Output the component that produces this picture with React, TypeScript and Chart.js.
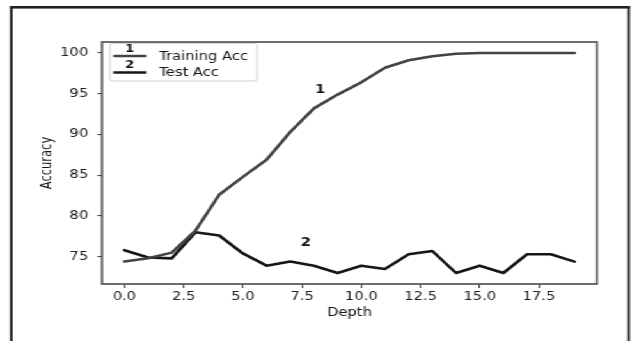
import { useEffect, useRef } from "react";
import { Chart, registerables } from "chart.js";

Chart.register(...registerables);

// Accuracy (%) per tree depth
const depth = [0, 1, 2, 3, 4, 5, 6, 7, 8, 9, 10, 11, 12, 13, 14, 15, 16, 17, 18, 19];
const trainingAcc = [74.4, 74.8, 75.5, 78.2, 82.6, 84.8, 86.9, 90.3, 93.2, 94.9, 96.4, 98.2, 99.1, 99.6, 99.9, 100, 100, 100, 100, 100];
const testAcc = [75.8, 74.9, 74.8, 78.0, 77.6, 75.4, 73.9, 74.4, 73.9, 73.0, 73.9, 73.5, 75.3, 75.7, 73.0, 73.9, 73.0, 75.3, 75.3, 74.4];

const xTickValues = [0, 2.5, 5, 7.5, 10, 12.5, 15, 17.5];
const yTickValues = [75, 80, 85, 90, 95, 100];

const seriesNames = ["Training Acc", "Test Acc"];
const seriesTags = ["1", "2"];
const seriesColors = ["#4a4040", "#161616"];
// where the curve numbers sit, in data units (depth, accuracy)
const tagDepth = [8.26, 7.65];
const tagAcc = [95.4, 76.7];

const FONT = "'DejaVu Sans', sans-serif";
const W = 494;
const H = 341;
const STRETCH = 632 / W;

const decor = {
  id: "decor",
  beforeDraw(chart: any) {
    const ctx = chart.ctx;
    ctx.save();
    ctx.fillStyle = "#ffffff";
    ctx.fillRect(0, 0, W, H);
    // outer frame (open at the bottom)
    ctx.fillStyle = "#222222";
    const t = 2.6;
    ctx.fillRect(10 / STRETCH, 6, t / STRETCH, H);
    ctx.fillRect(10 / STRETCH, 6, 620 / STRETCH, t);
    ctx.fillRect(627.4 / STRETCH, 6, t / STRETCH, H);
    ctx.restore();
  },
  afterDatasetsDraw(chart: any) {
    const { ctx, chartArea: a, scales } = chart;
    ctx.save();
    // axes box
    ctx.strokeStyle = "#555555";
    ctx.lineWidth = 1.7;
    ctx.strokeRect(a.left, a.top, a.right - a.left, a.bottom - a.top);

    // curve numbers
    ctx.font = `bold 11.5px ${FONT}`;
    ctx.fillStyle = "#111111";
    ctx.textAlign = "center";
    ctx.textBaseline = "middle";
    seriesTags.forEach((tag, i) => {
      ctx.fillText(tag, scales.x.getPixelForValue(tagDepth[i]), scales.y.getPixelForValue(tagAcc[i]));
    });

    // legend
    const bx = a.left + 6.3;
    const by = a.top + 1.5;
    const bw = 115;
    const bh = 37.5;
    ctx.beginPath();
    ctx.roundRect(bx, by, bw, bh, 2);
    ctx.fillStyle = "rgba(255,255,255,0.85)";
    ctx.fill();
    ctx.strokeStyle = "#cfcfcf";
    ctx.lineWidth = 1;
    ctx.stroke();

    const rowY = [by + 12.5, by + 29];
    const x0 = bx + 2.5;
    const x1 = bx + 28.5;
    seriesNames.forEach((name, i) => {
      ctx.strokeStyle = seriesColors[i];
      ctx.lineWidth = 2.5;
      ctx.beginPath();
      ctx.moveTo(x0, rowY[i]);
      ctx.lineTo(x1, rowY[i]);
      ctx.stroke();
      ctx.fillStyle = "#111111";
      ctx.font = `bold 10.5px ${FONT}`;
      ctx.textAlign = "center";
      ctx.fillText(seriesTags[i], (x0 + x1) / 2, rowY[i] - 7);
      ctx.font = `11.5px ${FONT}`;
      ctx.textAlign = "left";
      ctx.fillStyle = "#141414";
      ctx.fillText(name, bx + 38.5, rowY[i] + 1);
    });
    ctx.restore();
  },
};

export default function App() {
  const canvasRef = useRef<HTMLCanvasElement | null>(null);

  useEffect(() => {
    const canvas = canvasRef.current;
    if (!canvas) return;
    const chart = new Chart(canvas, {
      type: "line",
      data: {
        datasets: [trainingAcc, testAcc].map((vals, i) => ({
          label: seriesNames[i],
          data: depth.map((d, j) => ({ x: d, y: vals[j] })),
          borderColor: seriesColors[i],
          borderWidth: 2.6,
          borderJoinStyle: "round" as const,
          borderCapStyle: "round" as const,
          pointRadius: 0,
          tension: 0,
          fill: false,
        })),
      },
      options: {
        responsive: false,
        maintainAspectRatio: false,
        devicePixelRatio: 1,
        animation: false,
        layout: { padding: { left: 0, right: 27.4, top: 42, bottom: 0 } },
        plugins: {
          legend: { display: false },
          tooltip: { enabled: false },
        },
        scales: {
          x: {
            type: "linear",
            min: -0.95,
            max: 19.95,
            afterBuildTicks: (s: any) => {
              s.ticks = xTickValues.map((v) => ({ value: v }));
            },
            afterFit: (s: any) => {
              s.height = 57;
            },
            ticks: {
              callback: (v: any) => Number(v).toFixed(1),
              color: "#222222",
              font: { family: FONT, size: 11.5 },
              padding: 2.2,
              maxRotation: 0,
              autoSkip: false,
            },
            grid: { drawOnChartArea: false, drawTicks: true, tickLength: 4, color: "#444444", lineWidth: 1.1 },
            border: { display: false },
            title: {
              display: true,
              text: "Depth",
              color: "#161616",
              font: { family: FONT, size: 11.5 },
              padding: { top: 0, bottom: 21 },
            },
          },
          y: {
            type: "linear",
            min: 71.65,
            max: 101.35,
            afterBuildTicks: (s: any) => {
              s.ticks = yTickValues.map((v) => ({ value: v }));
            },
            afterFit: (s: any) => {
              s.width = 79.7;
            },
            ticks: {
              callback: (v: any) => String(v),
              color: "#222222",
              font: { family: FONT, size: 11.5 },
              padding: 7.2,
              autoSkip: false,
            },
            grid: { drawOnChartArea: false, drawTicks: true, tickLength: 3.5, color: "#444444", lineWidth: 1.1 },
            border: { display: false },
            title: {
              display: true,
              text: "Accuracy",
              color: "#161616",
              font: { family: FONT, size: 11.5 },
              padding: { top: 30.2, bottom: 0 },
            },
          },
        },
      },
      plugins: [decor],
    });
    return () => chart.destroy();
  }, []);

  return (
    <div
      style={{
        position: "fixed",
        left: 0,
        top: 0,
        width: W,
        height: H,
        background: "#ffffff",
        transform: `scaleX(${STRETCH})`,
        transformOrigin: "0 0",
      }}
    >
      <canvas ref={canvasRef} width={W} height={H} style={{ display: "block" }} />
    </div>
  );
}
